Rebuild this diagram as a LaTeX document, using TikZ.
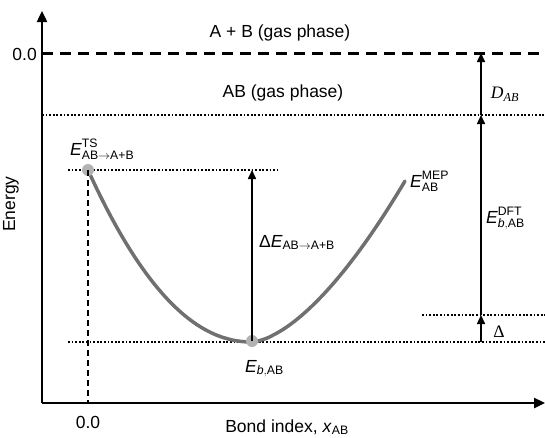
\documentclass[tikz,border=0pt]{standalone}
\usepackage{amsmath}
\usepackage{fontspec}
\setmainfont{Liberation Sans}
\newfontfamily\tnr{Liberation Serif}
\usetikzlibrary{arrows.meta}
\begin{document}
\begin{tikzpicture}[x=1pt,y=-1pt,
  every node/.style={font=\fontsize{17.5}{20}\selectfont, inner sep=0pt},
  axis/.style={line width=2.4pt, -{Triangle[length=11pt,width=10pt]}},
  dotline/.style={line width=2pt, dash pattern=on 1.8pt off 1.8pt},
  zeroline/.style={line width=3pt, dash pattern=on 11pt off 7pt},
  vdash/.style={line width=1.6pt, dash pattern=on 6pt off 4pt},
  harrow/.style={line width=1.6pt, -{Triangle[length=9pt,width=8pt]}},
  mep/.style={line width=3.5pt, draw={rgb,255:red,112;green,112;blue,112}, line cap=round},
  pt/.style={circle, fill={rgb,255:red,178;green,178;blue,178}, minimum size=12pt, inner sep=0pt}
]
\useasboundingbox (0,0) rectangle (545,437);

% axes
\coordinate (O) at (42,403);
\coordinate (ytop) at (42,11);
\coordinate (xend) at (545,403);
\draw[axis] (O) -- (ytop);
\draw[axis] (O) -- (xend);

% horizontal levels
\coordinate (z0) at (42,53);  \coordinate (z1) at (545,53);
\coordinate (ab0) at (42,115); \coordinate (ab1) at (545,115);
\coordinate (ts0) at (68,170); \coordinate (ts1) at (278,170);
\coordinate (d0) at (422,315); \coordinate (d1) at (545,315);
\coordinate (m0) at (68,342);  \coordinate (m1) at (545,342);
\draw[zeroline] (z0) -- (z1);
\draw[dotline] (ab0) -- (ab1);
\draw[dotline] (ts0) -- (ts1);
\draw[dotline] (d0) -- (d1);
\draw[dotline] (m0) -- (m1);

% curve
\draw[mep] plot[domain=1:0.002, samples=50] ({252-164*\x},{342-172*(\x^2.1)})
  -- plot[domain=0.002:1, samples=50] ({252+153*\x},{342-161*(\x^1.6)});

% points
\node[pt] (TS) at (88,170) {};
\node[pt] (MIN) at (252,341) {};
\coordinate (xts) at (88,403);
\draw[vdash] (TS.center) -- (xts);

% energy arrows
\coordinate (ets) at (252,170);
\draw[harrow] (MIN.center) -- (ets);
\coordinate (a0) at (481,342);
\coordinate (a1) at (481,315);
\coordinate (a2) at (481,115);
\coordinate (a3) at (481,53);
\draw[harrow] (a0) -- (a1);
\draw[harrow] (a1) -- (a2);
\draw[harrow] (a2) -- (a3);

% labels
\node (t1) at (280,33) {A + B (gas phase)};
\node (t2) at (283,93) {AB (gas phase)};
\node[anchor=east] (y0) at (37,54) {0.0};
\node[rotate=90] (en) at (11,204) {Energy};
\node (x0) at (88,422) {0.0};
\node (xl) at (287,427) {Bond index, \textit{x}$_{\textrm{AB}}$};
\node[anchor=base west] (lts) at (70,155) {$\textit{E}^{\textrm{TS}}_{\textrm{AB}\rightarrow\textrm{A+B}}$};
\node[anchor=base west] (lmep) at (410,187) {$\textit{E}^{\textrm{MEP}}_{\textrm{AB}}$};
\node[anchor=base west] (ldft) at (486,223) {$\textit{E}^{\textrm{DFT}}_{\textit{b},\textrm{AB}}$};
\node[anchor=base west] (lde) at (259,247) {$\textrm{Δ}\textit{E}_{\textrm{AB}\rightarrow\textrm{A+B}}$};
\node[anchor=base west] (lb) at (245,372) {$\textit{E}_{\textit{b},\textrm{AB}}$};
\node (lD) at (505,94) {\tnr\itshape D$_{\textit{\tnr AB}}$};
\node (ldel) at (499,332) {\tnr Δ};
\end{tikzpicture}
\end{document}
